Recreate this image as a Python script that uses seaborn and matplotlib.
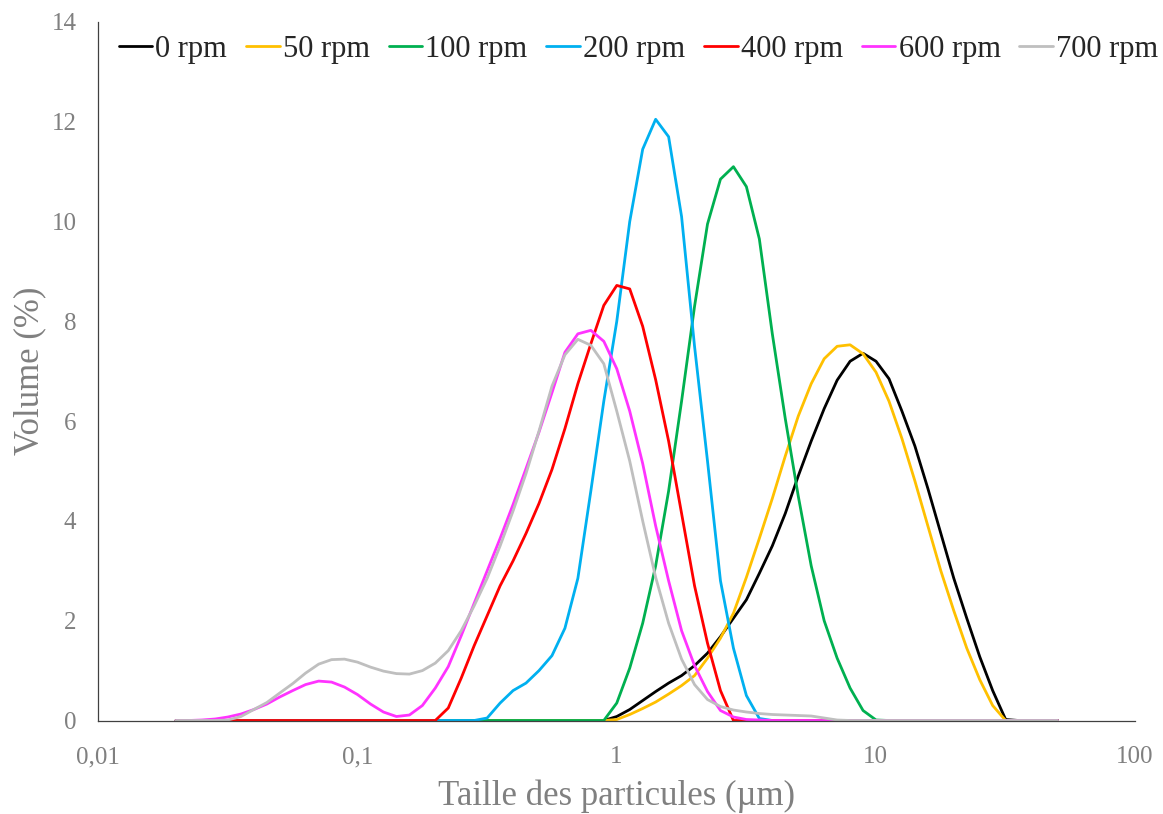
import matplotlib
matplotlib.use("Agg")
import matplotlib.pyplot as plt
import numpy as np
import pandas as pd
import seaborn as sns
from matplotlib.ticker import NullLocator

# ---------------- data ----------------
sizes = [0.0200, 0.0224, 0.0252, 0.0283, 0.0317, 0.0356, 0.0399, 0.0448, 0.0502, 0.0564,
         0.0632, 0.0710, 0.0796, 0.0893, 0.1002, 0.1125, 0.1262, 0.1416, 0.1589, 0.1783,
         0.2000, 0.2244, 0.2518, 0.2825, 0.3170, 0.3557, 0.3991, 0.4477, 0.5024, 0.5637,
         0.6325, 0.7096, 0.7962, 0.8934, 1.0024, 1.1247, 1.2619, 1.4159, 1.5887, 1.7825,
         2.0000, 2.2440, 2.5179, 2.8251, 3.1698, 3.5566, 3.9905, 4.4774, 5.0238, 5.6368,
         6.3246, 7.0963, 7.9621, 8.9337, 10.024, 11.247, 12.619, 14.159, 15.887, 17.825,
         20.000, 22.440, 25.179, 28.251, 31.698, 35.566, 39.905, 44.774, 50.238]

rpm_0 = [0, 0, 0, 0, 0, 0, 0, 0, 0, 0, 0, 0, 0, 0, 0, 0, 0, 0, 0, 0,
         0, 0, 0, 0, 0, 0, 0, 0, 0, 0, 0, 0, 0,
         0.0, 0.08, 0.22, 0.4, 0.58, 0.75, 0.9, 1.1, 1.35, 1.68, 2.05, 2.42, 2.95, 3.5,
         4.15, 4.9, 5.6, 6.25, 6.82, 7.2, 7.36, 7.2, 6.85, 6.2, 5.5, 4.65, 3.75, 2.85,
         2.05, 1.28, 0.6, 0.02,
         0, 0, 0, 0]

rpm_50 = [0, 0, 0, 0, 0, 0, 0, 0, 0, 0, 0, 0, 0, 0, 0, 0, 0, 0, 0, 0,
          0, 0, 0, 0, 0, 0, 0, 0, 0, 0, 0, 0, 0, 0,
          0.02, 0.12, 0.24, 0.37, 0.53, 0.7, 0.9, 1.25, 1.65, 2.15, 2.87, 3.65, 4.45, 5.3,
          6.1, 6.75, 7.25, 7.5, 7.53, 7.35, 6.98, 6.4, 5.65, 4.8, 3.9, 3.0, 2.2, 1.45,
          0.82, 0.3,
          0, 0, 0, 0, 0]

rpm_100 = [0, 0, 0, 0, 0, 0, 0, 0, 0, 0, 0, 0, 0, 0, 0, 0, 0, 0, 0, 0,
           0, 0, 0, 0, 0, 0, 0, 0, 0, 0, 0, 0, 0, 0,
           0.35, 1.05, 1.95, 3.1, 4.6, 6.4, 8.3, 9.95, 10.85, 11.1, 10.7, 9.65, 7.75, 6.05,
           4.5, 3.1, 2.0, 1.25, 0.65, 0.2, 0.01,
           0, 0, 0, 0, 0, 0, 0, 0, 0, 0, 0, 0, 0, 0]

rpm_200 = [0, 0, 0, 0, 0, 0, 0, 0, 0, 0, 0, 0, 0, 0, 0, 0, 0, 0, 0, 0,
           0, 0, 0, 0,
           0.05, 0.35, 0.6, 0.75, 1.0, 1.3, 1.85, 2.85, 4.6, 6.4, 8.0, 10.0, 11.45, 12.05,
           11.7, 10.1, 7.5, 5.2, 2.8, 1.45, 0.5, 0.04,
           0, 0, 0, 0, 0, 0, 0, 0, 0, 0, 0, 0, 0, 0, 0, 0, 0, 0, 0, 0, 0, 0, 0]

rpm_400 = [0, 0, 0, 0, 0, 0, 0, 0, 0, 0, 0, 0, 0, 0, 0, 0, 0, 0, 0, 0, 0,
           0.25, 0.85, 1.5, 2.1, 2.7, 3.2, 3.75, 4.35, 5.03, 5.85, 6.75, 7.55, 8.32, 8.72,
           8.65, 7.9, 6.83, 5.6, 4.15, 2.7, 1.55, 0.6,
           0, 0, 0, 0, 0, 0, 0, 0, 0, 0, 0, 0, 0, 0, 0, 0, 0, 0, 0, 0, 0, 0, 0, 0, 0, 0]

rpm_600 = [0, 0, 0.01, 0.03, 0.07, 0.13, 0.22, 0.33, 0.47, 0.6, 0.72, 0.79, 0.77, 0.67,
           0.52, 0.33, 0.17, 0.08, 0.11, 0.3, 0.65, 1.08, 1.7, 2.35, 3.0, 3.65, 4.33, 5.05,
           5.78, 6.57, 7.38, 7.75, 7.82, 7.6, 7.05, 6.2, 5.15, 3.9, 2.8, 1.8, 1.1, 0.58,
           0.2, 0.07, 0.02, 0.01,
           0, 0, 0, 0, 0, 0, 0, 0, 0, 0, 0, 0, 0, 0, 0, 0, 0, 0, 0, 0, 0, 0, 0]

rpm_700 = [0, 0, 0, 0, 0.01, 0.08, 0.22, 0.36, 0.55, 0.74, 0.95, 1.13, 1.22, 1.23,
           1.17, 1.07, 0.99, 0.94, 0.93, 1.0, 1.15, 1.4, 1.8, 2.3, 2.85, 3.5, 4.2, 4.95,
           5.8, 6.7, 7.33, 7.64, 7.52, 7.15, 6.2, 5.2, 4.0, 2.87, 1.95, 1.23, 0.72, 0.42,
           0.28, 0.21, 0.17, 0.14, 0.12, 0.11, 0.10, 0.09, 0.05, 0.01,
           0, 0, 0, 0, 0, 0, 0, 0, 0, 0, 0, 0, 0, 0, 0, 0, 0]

series_labels = ["0 rpm", "50 rpm", "100 rpm", "200 rpm", "400 rpm", "600 rpm", "700 rpm"]
series_values = [rpm_0, rpm_50, rpm_100, rpm_200, rpm_400, rpm_600, rpm_700]
series_colors = ["#000000", "#FFC000", "#00B050", "#00B0F0", "#FF0000", "#FF33FF", "#BFBFBF"]

xtick_values = [0.01, 0.1, 1, 10, 100]
xtick_labels = ["0,01", "0,1", "1", "10", "100"]
ytick_values = [0, 2, 4, 6, 8, 10, 12, 14]

# ---------------- build long-form table ----------------
frames = []
for lab, vals in zip(series_labels, series_values):
    frames.append(pd.DataFrame({"size": sizes, "volume": vals, "speed": lab}))
df = pd.concat(frames, ignore_index=True)

# ---------------- plot ----------------
sns.set_style("white")
plt.rcParams["font.family"] = ["Liberation Serif", "DejaVu Serif"]

W, H = 1163, 814
fig = plt.figure(figsize=(W / 100, H / 100), dpi=100)
ax = fig.add_axes([98 / W, 1 - 720.5 / H, (1135 - 98) / W, (720.5 - 22) / H])

sns.lineplot(data=df, x="size", y="volume", hue="speed", hue_order=series_labels,
             palette=series_colors, sort=False, estimator=None, linewidth=2.0,
             legend=False, ax=ax)

ax.set_xscale("log")
ax.set_xlim(0.01, 100)
ax.set_ylim(0, 14)
ax.set_xticks(xtick_values)
ax.set_xticklabels(xtick_labels)
ax.xaxis.set_minor_locator(NullLocator())
ax.set_yticks(ytick_values)

axis_color = "#404040"
text_gray = "#808080"
for side in ["top", "right"]:
    ax.spines[side].set_visible(False)
for side in ["left", "bottom"]:
    ax.spines[side].set_color(axis_color)
    ax.spines[side].set_linewidth(0.9)

ax.tick_params(axis="both", which="major", direction="inout", length=11, width=0.9,
               color=axis_color, labelsize=18, labelcolor=text_gray)
ax.tick_params(axis="x", pad=13)
ax.tick_params(axis="y", pad=10)

ax.set_xlabel("Taille des particules (µm)", fontsize=25, color=text_gray, labelpad=8)
ax.set_ylabel("Volume (%)", fontsize=25, color=text_gray, labelpad=4)

handles = ax.get_lines()[:len(series_labels)]
fig.legend(handles, series_labels, loc="center", bbox_to_anchor=(0.549, 0.939),
           ncol=7, frameon=False, fontsize=22, handlelength=1.1, handletextpad=0.1,
           columnspacing=0.62, borderpad=0, borderaxespad=0)

fig.savefig("out.png", dpi=100, facecolor="white")
